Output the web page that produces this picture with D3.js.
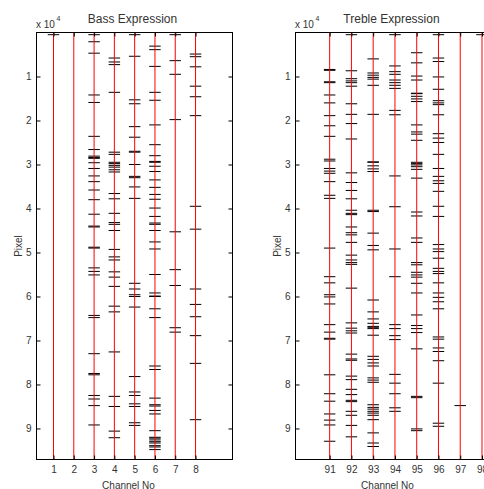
<!DOCTYPE html>
<html>
<head>
<meta charset="utf-8">
<script src="https://cdn.jsdelivr.net/npm/d3@7"></script>
<style>
  html, body { margin: 0; padding: 0; background: #fff; }
  svg { display: block; }
  text { font-family: "Liberation Sans", Arial, sans-serif; fill: #333; }
</style>
</head>
<body>
<svg id="chart" width="484" height="489"></svg>
<script>
// ---------- DATA ----------
const bassTitle = "Bass Expression";
const trebleTitle = "Treble Expression";
const xLabelText = "Channel No";
const yLabelText = "Pixel";
const yTickValues = [1, 2, 3, 4, 5, 6, 7, 8, 9];

const bassChannels = [1, 2, 3, 4, 5, 6, 7, 8];
const bassCh1 = [0.05];
const bassCh2 = [];
const bassCh3 = [0.05, 0.21, 0.47, 1.42, 1.59, 2.36, 2.66, 2.81, 2.84, 2.86, 2.96, 3.09, 3.26, 3.39, 3.58, 3.80, 4.13, 4.40, 4.42, 4.88, 4.90, 5.35, 5.43, 5.51, 6.43, 6.48, 7.30, 7.75, 7.78, 8.25, 8.33, 8.48, 8.92];
const bassCh4 = [0.58, 0.67, 0.73, 1.36, 2.72, 2.77, 2.95, 2.98, 3.02, 3.06, 3.12, 3.17, 3.66, 3.78, 4.11, 4.32, 4.36, 4.50, 4.93, 5.10, 5.17, 5.44, 5.56, 5.77, 6.22, 6.35, 7.26, 8.27, 8.50, 9.06, 9.21];
const bassCh5 = [0.05, 0.54, 1.53, 1.62, 2.14, 2.38, 2.70, 2.72, 3.00, 3.27, 3.30, 3.51, 3.77, 5.70, 5.83, 5.96, 6.00, 6.24, 7.82, 8.17, 8.25, 8.44, 8.50, 8.87, 8.93];
const bassCh6 = [0.31, 0.39, 0.77, 1.36, 1.54, 2.10, 2.55, 2.80, 2.93, 2.95, 3.04, 3.16, 3.35, 3.52, 3.68, 3.79, 3.99, 4.18, 4.33, 4.36, 4.50, 4.76, 4.92, 5.50, 5.92, 5.99, 6.00, 6.28, 6.48, 7.58, 7.66, 8.31, 8.46, 8.49, 8.59, 8.67, 9.05, 9.20, 9.22, 9.26, 9.30, 9.33, 9.39, 9.42, 9.48];
const bassCh7 = [0.05, 0.64, 0.95, 1.98, 4.53, 5.39, 5.75, 6.71, 6.81];
const bassCh8 = [0.49, 0.55, 0.78, 1.22, 1.46, 1.89, 3.95, 4.47, 5.83, 6.18, 6.46, 6.89, 7.52, 8.80];
const bassSpikes = [bassCh1, bassCh2, bassCh3, bassCh4, bassCh5, bassCh6, bassCh7, bassCh8];

const trebleChannels = [91, 92, 93, 94, 95, 96, 97, 98];
const trebleCh91 = [0.84, 0.86, 1.12, 1.14, 1.42, 1.60, 1.89, 2.12, 2.36, 2.88, 2.92, 3.09, 3.15, 3.20, 3.39, 3.70, 3.77, 4.90, 5.55, 5.69, 5.96, 6.01, 6.17, 6.64, 6.81, 6.95, 6.97, 7.78, 8.21, 8.38, 8.67, 8.81, 8.92, 9.29];
const trebleCh92 = [0.05, 0.87, 1.05, 1.10, 1.14, 1.22, 1.62, 1.86, 2.07, 2.42, 3.19, 3.41, 3.59, 3.78, 4.04, 4.11, 4.14, 4.42, 4.55, 4.60, 4.77, 5.06, 5.17, 5.23, 5.27, 5.81, 6.60, 6.72, 6.78, 6.83, 7.31, 7.42, 7.45, 7.81, 7.89, 8.11, 8.23, 8.36, 8.39, 8.61, 8.70, 8.93, 9.19];
const trebleCh93 = [0.60, 0.92, 0.97, 1.02, 1.06, 1.20, 1.86, 2.94, 2.95, 3.03, 3.10, 3.16, 4.04, 4.07, 4.56, 4.84, 4.94, 6.08, 6.35, 6.51, 6.61, 6.68, 6.70, 6.73, 6.88, 7.36, 7.43, 7.51, 7.58, 7.85, 7.90, 7.95, 8.46, 8.52, 8.56, 8.61, 8.65, 8.70, 8.80, 9.10, 9.33, 9.41];
const trebleCh94 = [0.05, 0.76, 0.89, 0.95, 1.08, 1.14, 1.20, 1.27, 1.77, 1.87, 3.26, 3.96, 4.92, 5.55, 6.64, 6.73, 6.89, 6.98, 7.77, 7.97, 8.21, 8.53, 8.61];
const trebleCh95 = [0.46, 0.69, 0.99, 1.08, 1.38, 1.39, 1.45, 1.51, 1.57, 2.10, 2.26, 2.31, 2.45, 2.95, 2.98, 3.01, 3.05, 3.11, 3.31, 4.08, 4.17, 4.67, 4.77, 5.23, 5.28, 5.45, 5.51, 5.56, 5.70, 5.92, 6.42, 6.66, 6.73, 6.82, 7.19, 8.27, 8.30, 9.01, 9.05];
const trebleCh96 = [0.05, 0.58, 0.66, 1.01, 1.29, 1.55, 1.60, 1.64, 1.87, 2.30, 2.40, 2.50, 2.77, 3.09, 3.27, 3.37, 3.43, 3.61, 3.95, 4.18, 4.82, 4.92, 4.98, 5.13, 5.36, 5.43, 5.48, 5.69, 5.92, 6.02, 6.12, 6.28, 6.92, 6.97, 7.17, 7.25, 7.46, 7.97, 8.88, 8.95];
const trebleCh97 = [8.48];
const trebleCh98 = [0.05];
const trebleSpikes = [trebleCh91, trebleCh92, trebleCh93, trebleCh94, trebleCh95, trebleCh96, trebleCh97, trebleCh98];

// ---------- DRAW ----------
const svg = d3.select("#chart");
const plotTop = 32.5, plotBottom = 459.5;
const yDomain = [0, 9.705];
const tickHalf = 5.75;

function panel(opts) {
  const { left, right, xDomain, channels, spikes, title } = opts;
  const x = d3.scaleLinear().domain(xDomain).range([left, right]);
  const y = d3.scaleLinear().domain(yDomain).range([plotTop, plotBottom]);
  const g = svg.append("g");

  // spike ticks
  channels.forEach((ch, i) => {
    g.selectAll(null).data(spikes[i]).enter().append("line")
      .attr("x1", x(ch) - tickHalf).attr("x2", x(ch) + tickHalf)
      .attr("y1", d => y(d)).attr("y2", d => y(d))
      .attr("stroke", "#000").attr("stroke-width", 1);
  });
  // red channel lines
  g.selectAll(null).data(channels).enter().append("line")
    .attr("x1", d => x(d)).attr("x2", d => x(d))
    .attr("y1", plotTop).attr("y2", plotBottom)
    .attr("stroke", "#ff0000").attr("stroke-width", 1);

  // axes (inward ticks)
  const fmtNone = () => "";
  const axL = g.append("g").attr("transform", `translate(${left},0)`)
    .call(d3.axisLeft(y).tickValues(yTickValues).tickSize(-4).tickPadding(5).tickFormat(d3.format("d")));
  const axR = g.append("g").attr("transform", `translate(${right},0)`)
    .call(d3.axisRight(y).tickValues(yTickValues).tickSize(-4).tickFormat(fmtNone));
  const axB = g.append("g").attr("transform", `translate(0,${plotBottom})`)
    .call(d3.axisBottom(x).tickValues(channels).tickSize(-4).tickPadding(6).tickFormat(d3.format("d")));
  const axT = g.append("g").attr("transform", `translate(0,${plotTop})`)
    .call(d3.axisTop(x).tickValues(channels).tickSize(-4).tickFormat(fmtNone));
  [axL, axR, axB, axT].forEach(a => {
    a.select(".domain").remove();
    a.selectAll("line").attr("stroke", "#000");
    a.selectAll("text").attr("font-size", 10).attr("fill", "#333")
      .attr("font-family", "Liberation Sans, Arial, sans-serif");
  });
  // box
  g.append("rect").attr("x", left).attr("y", plotTop)
    .attr("width", right - left).attr("height", plotBottom - plotTop)
    .attr("fill", "none").attr("stroke", "#000").attr("stroke-width", 1);

  // title
  g.append("text").attr("x", (left + right) / 2 - 2).attr("y", 22.5)
    .attr("text-anchor", "middle").attr("font-size", 12).text(title);
  // exponent
  const ex = g.append("text").attr("x", left - 0.5).attr("y", 28).attr("font-size", 10);
  ex.append("tspan").text("x 10");
  ex.append("tspan").attr("font-size", 7).attr("dx", 1.5).attr("dy", -7).text("4");
  // labels
  g.append("text").attr("x", (left + right) / 2 - 6).attr("y", 488.5)
    .attr("text-anchor", "middle").attr("font-size", 10).text(xLabelText);
  g.append("text")
    .attr("transform", `translate(${left - 14.5},${(plotTop + plotBottom) / 2}) rotate(-90)`)
    .attr("text-anchor", "middle").attr("font-size", 10).text(yLabelText);
}

panel({ left: 36.5, right: 232.5, xDomain: [0.162, 9.822], channels: bassChannels, spikes: bassSpikes, title: bassTitle });
panel({ left: 295.5, right: 491.5, xDomain: [89.43, 98.437], channels: trebleChannels, spikes: trebleSpikes, title: trebleTitle });
</script>
</body>
</html>
